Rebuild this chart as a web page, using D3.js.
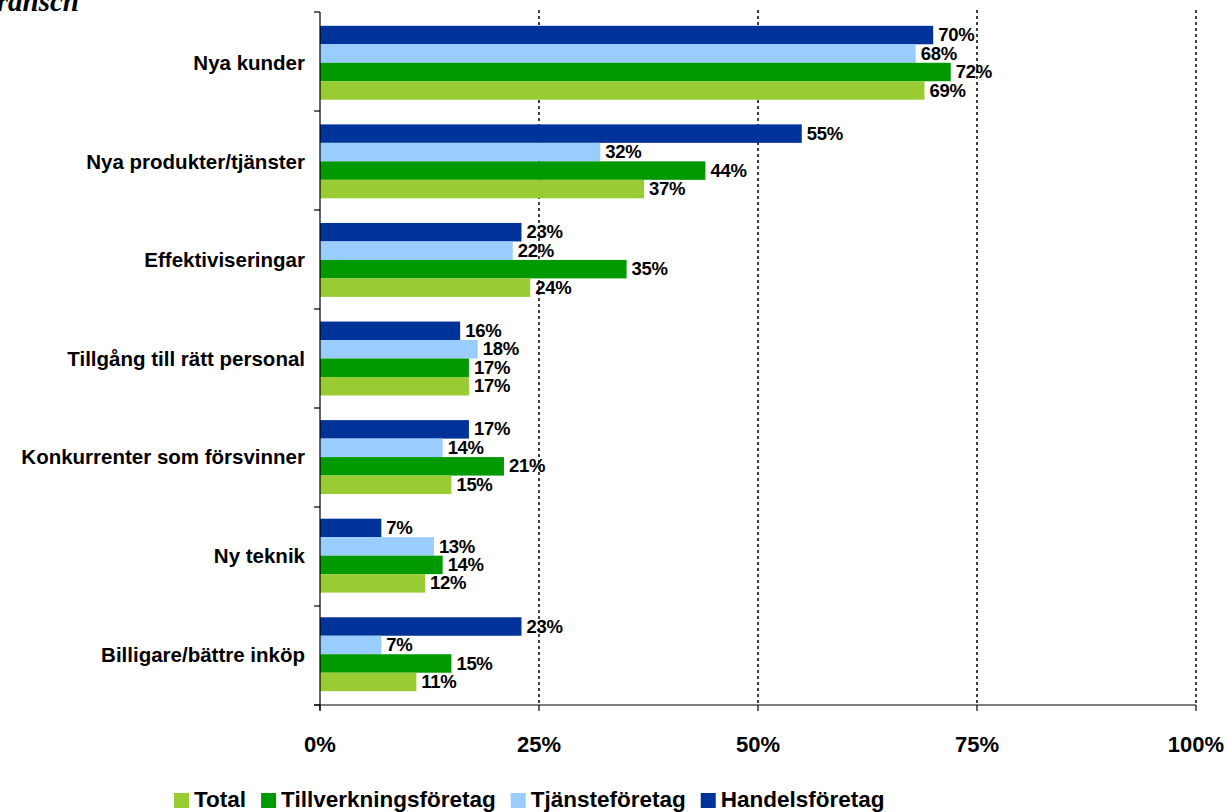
<!DOCTYPE html>
<html lang="sv">
<head>
<meta charset="UTF-8">
<title>Möjligheter per bransch</title>
<script src="https://d3js.org/d3.v7.min.js"></script>
</head>
<body style="margin:0; background:white">
<script>
    // data
    const categories = ["Nya kunder", "Nya produkter/tjänster", "Effektiviseringar",
        "Tillgång till rätt personal", "Konkurrenter som försvinner", "Ny teknik", "Billigare/bättre inköp"];
    const seriesNames = ["Handelsföretag", "Tjänsteföretag", "Tillverkningsföretag", "Total"];
    const handels = [70, 55, 23, 16, 17, 7, 23];
    const tjanste = [68, 32, 22, 18, 14, 13, 7];
    const tillverk = [72, 44, 35, 17, 21, 14, 15];
    const total = [69, 37, 24, 17, 15, 12, 11];
    const xTicks = [0, 25, 50, 75, 100];
    const legendOrder = ["Total", "Tillverkningsföretag", "Tjänsteföretag", "Handelsföretag"];

    const colors = {
        "Handelsföretag": "#003399",
        "Tjänsteföretag": "#99ccff",
        "Tillverkningsföretag": "#009900",
        "Total": "#99cc33"
    };
    const values = [handels, tjanste, tillverk, total];

    const W = 1228, H = 812;
    const plotL = 320, plotR = 1196, plotT = 12, plotB = 705;

    const svg = d3.select("body").append("svg")
        .attr("width", W).attr("height", H)
        .style("font-family", "'Liberation Sans', Arial, sans-serif");

    // title fragment, clipped by the top-left corner as in the source
    svg.append("text")
        .attr("x", 79).attr("y", 11)
        .attr("text-anchor", "end")
        .style("font-family", "'Liberation Serif', 'Times New Roman', serif")
        .style("font-style", "italic").style("font-weight", "bold")
        .style("font-size", "29px")
        .text("Bransch");

    const x = d3.scaleLinear().domain([0, 100]).range([plotL, plotR]);
    const y = d3.scaleBand().domain(categories).range([plotT, plotB]).paddingInner(0.25).paddingOuter(0.14);
    const ySub = d3.scaleBand().domain(seriesNames).range([0, y.bandwidth()]);

    // dotted gridlines
    svg.append("g").selectAll("line")
        .data(xTicks.slice(1))
        .join("line")
        .attr("x1", d => x(d)).attr("x2", d => x(d))
        .attr("y1", plotT - 2).attr("y2", plotB)
        .attr("stroke", "black").attr("stroke-width", 1.5)
        .attr("stroke-dasharray", "3,3");

    // bars
    const rows = [];
    categories.forEach((c, i) => {
        seriesNames.forEach((s, j) => rows.push({cat: c, series: s, value: values[j][i]}));
    });

    const g = svg.append("g");
    g.selectAll("rect")
        .data(rows)
        .join("rect")
        .attr("x", x(0))
        .attr("y", d => y(d.cat) + ySub(d.series))
        .attr("width", d => x(d.value) - x(0))
        .attr("height", ySub.bandwidth())
        .attr("fill", d => colors[d.series]);

    g.selectAll("text")
        .data(rows)
        .join("text")
        .attr("x", d => x(d.value) + 5)
        .attr("y", d => y(d.cat) + ySub(d.series) + ySub.bandwidth() / 2)
        .attr("dy", "0.33em")
        .style("font-weight", "bold").style("font-size", "18.5px")
        .style("letter-spacing", "-0.3px")
        .text(d => d.value + "%");

    // y axis with boundary ticks
    const step = (plotB - plotT) / categories.length;
    svg.append("line")
        .attr("x1", plotL).attr("x2", plotL).attr("y1", plotT).attr("y2", plotB + 5)
        .attr("stroke", "black").attr("stroke-width", 1.2);
    svg.append("g").selectAll("line")
        .data(d3.range(categories.length + 1))
        .join("line")
        .attr("x1", plotL - 6).attr("x2", plotL)
        .attr("y1", d => plotT + d * step).attr("y2", d => plotT + d * step)
        .attr("stroke", "black").attr("stroke-width", 1.2);

    svg.append("g").selectAll("text")
        .data(categories)
        .join("text")
        .attr("x", 305)
        .attr("y", d => y(d) + y.bandwidth() / 2)
        .attr("dy", "0.36em")
        .attr("text-anchor", "end")
        .style("font-weight", "bold").style("font-size", "20.5px")
        .text(d => d);

    // x axis
    svg.append("line")
        .attr("x1", plotL - 6).attr("x2", plotR).attr("y1", plotB).attr("y2", plotB)
        .attr("stroke", "black").attr("stroke-width", 1.2);
    svg.append("g").selectAll("line")
        .data(xTicks)
        .join("line")
        .attr("x1", d => x(d)).attr("x2", d => x(d))
        .attr("y1", plotB).attr("y2", plotB + 6)
        .attr("stroke", "black").attr("stroke-width", 1.2);
    svg.append("g").selectAll("text")
        .data(xTicks)
        .join("text")
        .attr("x", d => x(d))
        .attr("y", 752)
        .attr("text-anchor", "middle")
        .style("font-weight", "bold").style("font-size", "22px")
        .text(d => d + "%");

    // legend
    const legend = svg.append("g").attr("transform", "translate(174, 807)");
    let lx = 0;
    legendOrder.forEach(name => {
        legend.append("rect")
            .attr("x", lx).attr("y", -14).attr("width", 15).attr("height", 15)
            .attr("fill", colors[name]);
        const t = legend.append("text")
            .attr("x", lx + 20).attr("y", 0)
            .style("font-weight", "bold").style("font-size", "22.5px")
            .text(name);
        lx += 20 + t.node().getComputedTextLength() + 15;
    });
</script>
</body>
</html>
